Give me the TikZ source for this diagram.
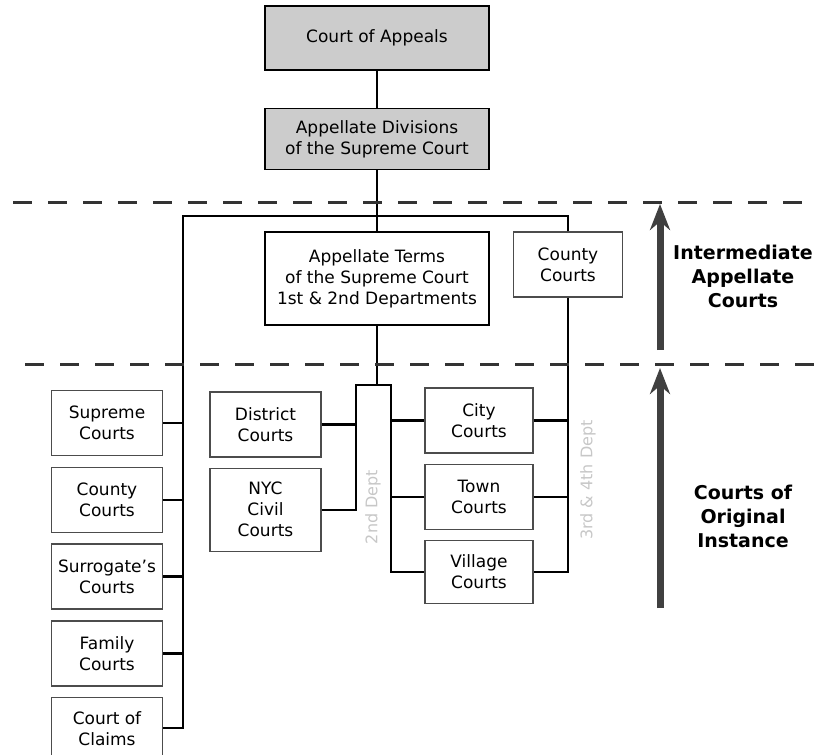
\documentclass[tikz,border=0pt]{standalone}
\usepackage{fontspec}
\setmainfont{DejaVu Sans}
\usetikzlibrary{arrows.meta, positioning}
\newcommand{\courtfont}{\fontsize{17}{21}\selectfont}
\tikzstyle{topcourt} = [rectangle, minimum width=224pt, align=center, draw=black, line width=1.6pt, fill=black!20, font=\courtfont, inner sep=2pt]
\tikzstyle{trial} = [rectangle, minimum width=111pt, minimum height=65pt, align=center, draw=black!70, line width=1.3pt, fill=white, font=\courtfont, inner sep=2pt]
\tikzstyle{level} = [align=center, font=\fontsize{19}{24}\selectfont\bfseries]
\tikzstyle{deptlabel} = [rotate=90, text=black!22, font=\fontsize{16}{18}\selectfont]
\tikzstyle{link} = [line width=2.4pt, black]
\tikzstyle{divider} = [line width=3pt, black!80, dash pattern=on 19pt off 16pt]
\tikzstyle{levelarrow} = [line width=7pt, black!75, -{Stealth[length=26pt, width=20pt]}]
\begin{document}
\begin{tikzpicture}[x=1pt, y=-1pt]
\useasboundingbox (0,0) rectangle (817,755);

% Appellate courts
\node (appeals) [topcourt, minimum height=64pt] at (377,38) {Court of Appeals};
\node (appdiv) [topcourt, minimum height=61pt, below=37pt of appeals] {Appellate Divisions\\of the Supreme Court};
\node (appterms) [topcourt, fill=white, minimum height=93pt] at (377,278.5) {Appellate Terms\\of the Supreme Court\\1st \& 2nd Departments};
\node (cty) [trial, minimum width=109pt] at (568,264.5) {County\\Courts};

% Left column
\node (supreme) [trial] at (107,423) {Supreme\\Courts};
\node (county) [trial, below=10.5pt of supreme] {County\\Courts};
\node (surrogate) [trial, below=10.5pt of county] {Surrogate's\\Courts};
\node (family) [trial, below=10.5pt of surrogate] {Family\\Courts};
\node (claims) [trial, minimum height=61pt, below=10.5pt of family] {Court of\\Claims};

% Middle columns
\node (district) [trial] at (265.5,424.5) {District\\Courts};
\node (nyc) [trial, minimum height=83pt, below=10pt of district] {NYC\\Civil\\Courts};
\node (city) [trial, minimum width=108pt] at (479,420.5) {City\\Courts};
\node (town) [trial, minimum width=108pt, below=10pt of city] {Town\\Courts};
\node (village) [trial, minimum width=108pt, minimum height=63pt, below=10pt of town] {Village\\Courts};

% Department labels
\node (dept2) [deptlabel] at (373,507) {2nd Dept};
\node (dept34) [deptlabel] at (588,480) {3rd \& 4th Dept};

% Junctions
\coordinate (lspine) at (183,216);
\coordinate (forkL) at (356,385);
\coordinate (forkR) at (391,385);

% Links
\draw [link] (appeals) -- (appdiv);
\draw [link] (appdiv) -- (appterms);
\draw [link] (cty.north) |- (lspine) |- (claims.east);
\foreach \c in {supreme, county, surrogate, family}
  \draw [link] (\c.east) -- (\c.east -| lspine);
\draw [link] (cty.south) |- (village.east);
\foreach \c in {city, town}
  \draw [link] (\c.east) -- (\c.east -| cty.south);
\draw [link] (appterms.south) -- (appterms.south |- forkL);
\draw [link] (nyc.east) -| (forkL) -- (forkR) |- (village.west);
\draw [link] (district.east) -- (district.east -| forkL);
\foreach \c in {city, town}
  \draw [link] (\c.west) -- (\c.west -| forkR);

% Level dividers
\draw [divider] (13,202) -- (817,202);
\draw [divider] (25,364) -- (817,364);

% Level arrows and labels
\draw [levelarrow] (660,350) -- (660,204);
\draw [levelarrow] (660,608) -- (660,368);
\node (iac) [level] at (743,276) {Intermediate\\Appellate\\Courts};
\node (coi) [level] at (743,516) {Courts of\\Original\\Instance};

\end{tikzpicture}
\end{document}
